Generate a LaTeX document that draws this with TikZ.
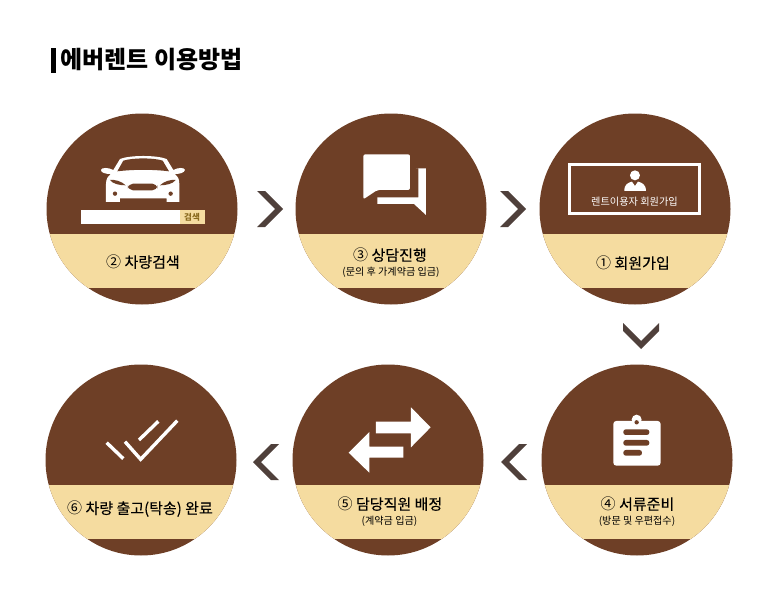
\documentclass[tikz,border=0pt]{standalone}
\usepackage{fontspec}
\setmainfont{Noto Sans CJK KR}
\newfontfamily\krmid[FakeBold=0.2]{Noto Sans CJK KR}
\newfontfamily\krreg{Noto Sans CJK KR}
\usetikzlibrary{calc}
\definecolor{brownc}{HTML}{6E3F26}
\definecolor{beigec}{HTML}{F5DCA0}
\definecolor{chevc}{HTML}{4F403B}
\definecolor{searchc}{HTML}{8A6A1E}
\tikzset{
  stepcircle/.style={circle,minimum size=191pt,inner sep=0pt,
    path picture={
      \fill[brownc] ($(path picture bounding box.center)+(-100,-100)$) rectangle ($(path picture bounding box.center)+(100,100)$);
      \fill[beigec] ($(path picture bounding box.center)+(-100,25)$) rectangle ($(path picture bounding box.center)+(100,79)$);}},
  mainlabel/.style={inner sep=0pt,text=black,font=\fontsize{15}{17}\krmid},
  sublabel/.style={inner sep=0pt,text=black,font=\fontsize{10.1}{12}\selectfont},
  chevron/.pic={\fill[chevc] (-26,-18) -- (-18,-18) -- (0,0) -- (-18,18) -- (-26,18) -- (-8,0) -- cycle;},
  icon/.style={fill=white,draw=none},
  hole/.style={fill=brownc,draw=none},
  zoomA/.style={shift={(40,30)},x=0.3333pt,y=-0.3333pt},
  zoomB/.style={shift={(290,110)},x=0.3333pt,y=-0.3333pt},
  zoomC/.style={shift={(40,360)},x=0.3333pt,y=-0.3333pt},
  zoomD/.style={shift={(490,320)},x=0.3333pt,y=-0.3333pt},
}
\begin{document}
\begin{tikzpicture}[x=1pt,y=-1pt]
\useasboundingbox (0,0) rectangle (777,610);
% title
\fill[black] (51,48) rectangle (55.7,73);
\node[anchor=west,inner sep=0pt,font=\fontsize{24}{28}\selectfont\bfseries] (title) at (60.5,60) {에버렌트 이용방법};
% circles
\node[stepcircle] (c2) at (142,209) {};
\node[stepcircle] (c3) at (391,209) {};
\node[stepcircle] (c1) at (635,209) {};
\node[stepcircle] (c6) at (141,460) {};
\node[stepcircle] (c5) at (388,460) {};
\node[stepcircle] (c4) at (637,460) {};
% chevrons
\coordinate (a23) at (283,209);
\coordinate (a31) at (526,209);
\coordinate (a14) at (641,349);
\coordinate (a45) at (501,462);
\coordinate (a56) at (253,462);
\pic at (a23) {chevron};
\pic at (a31) {chevron};
\pic[rotate=-90] at (a14) {chevron};
\pic[rotate=180] at (a45) {chevron};
\pic[rotate=180] at (a56) {chevron};
% labels
\node[mainlabel] (l2) at (143,262) {{\krreg ②} 차량검색};
\node[mainlabel] (l3) at (390,255) {{\krreg ③} 상담진행};
\node[sublabel] (s3) at (391,272) {(문의 후 가계약금 입금)};
\node[mainlabel] (l1) at (633,263) {{\krreg ①} 회원가입};
\node[mainlabel] (l6) at (140,509) {{\krreg ⑥} 차량 출고(탁송) 완료};
\node[mainlabel] (l5) at (390,504) {{\krreg ⑤} 담당직원 배정};
\node[sublabel] (s5) at (389.5,521) {(계약금 입금)};
\node[mainlabel] (l4) at (637.5,504) {{\krreg ④} 서류준비};
\node[sublabel] (s4) at (637,521) {(방문 및 우편접수)};
% car icon
\begin{scope}[zoomA]
  \fill[icon] (198,516) -- (198,462) .. controls (198,445) and (205,438) .. (212,432)
    .. controls (195,432) and (183,428) .. (183,420) .. controls (185,412) and (205,412) .. (220,420)
    -- (240,387) .. controls (270,375) and (350,375) .. (380,387) -- (400,420)
    .. controls (415,412) and (433,412) .. (435,420) .. controls (433,428) and (420,432) .. (405,432)
    .. controls (412,438) and (418,445) .. (418,462) -- (418,516) -- (380,516) -- (380,505) -- (240,505) -- (240,516) -- cycle;
  \fill[hole] (232,424) -- (250,392) .. controls (280,383) and (340,383) .. (368,392) -- (387,424) .. controls (340,418) and (280,418) .. (232,424) -- cycle;
  \fill[hole] (210,450) .. controls (225,448) and (245,454) .. (257,466) .. controls (240,466) and (218,462) .. (210,450) -- cycle;
  \fill[hole] (407,450) .. controls (392,448) and (372,454) .. (360,466) .. controls (377,466) and (399,462) .. (407,450) -- cycle;
  \fill[hole,rounded corners=5pt] (264,461) rectangle (352,481);
  \fill[hole] (225,491) circle (6.5);
  \fill[hole] (392,491) circle (6.5);
  \fill[white] (123,540) rectangle (420,582);
  \fill[beigec] (420,540) rectangle (495,582);
\end{scope}
\node[inner sep=0pt,text=searchc,font=\fontsize{8.5}{10}\selectfont\bfseries] (srch) at (192,217) {검색};
% chat icon
\begin{scope}[zoomB]
  \fill[icon,rounded corners=2pt] (220,133) -- (360,133) -- (360,240) -- (262,240) -- (220,268) -- cycle;
  \fill[icon] (378,175) -- (408,175) -- (408,315) -- (372,282) -- (262,282) -- (262,262) -- (385,262) -- (385,175) -- cycle;
  % member box
  \draw[white,line width=2.7pt] (838,164) rectangle (1229,311);
  \fill[icon] (1035,196) circle (15);
  \fill[icon] (1003,243) .. controls (1003,222) and (1015,218) .. (1026,215) -- (1035,228) -- (1044,215) .. controls (1055,218) and (1068,222) .. (1068,243) -- cycle;
\end{scope}
\node[inner sep=0pt,text=white,font=\fontsize{10.2}{12}\selectfont] (member) at (634.5,201.5) {렌트이용자 회원가입};
% check icon
\begin{scope}[zoomC]
  \draw[white,line width=3.4pt] (200,248) -- (250,296);
  \draw[white,line width=3.4pt] (255,245) -- (302,298) -- (412,182);
  \draw[white,line width=3.4pt] (297,240) -- (355,184);
  % exchange arrows
  \fill[icon] (1008,185) -- (1113,185) -- (1113,142) -- (1172,202) -- (1113,262) -- (1113,220) -- (1008,220) -- cycle;
  \fill[icon] (1090,260) -- (988,260) -- (988,216) -- (926,278) -- (988,338) -- (988,293) -- (1090,293) -- cycle;
\end{scope}
% clipboard icon
\begin{scope}[zoomD]
  \fill[icon,rounded corners=3pt] (370,303) rectangle (512,437);
  \fill[icon] (440,299) circle (15);
  \fill[hole] (440,307) circle (6.5);
  \fill[hole,rounded corners=2.5pt] (400,328) rectangle (478,345);
  \fill[hole,rounded corners=2.5pt] (400,360) rectangle (478,377);
  \fill[hole,rounded corners=2.5pt] (400,390) rectangle (456,407);
\end{scope}
\end{tikzpicture}
\end{document}
